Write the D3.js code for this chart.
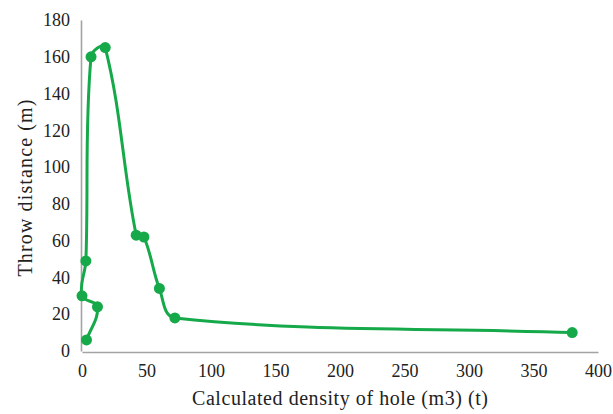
<!DOCTYPE html>
<html>
<head>
<meta charset="utf-8">
<script src="https://cdn.jsdelivr.net/npm/d3@7"></script>
<style>
  body { margin: 0; background: #fff; }
  text { font-family: "Liberation Serif", "DejaVu Serif", serif; fill: #222; }
</style>
</head>
<body>
<div id="chart"></div>
<script>
// points in the order the line connects them
var density = [3.5, 12, 0, 3, 7, 18, 42, 48, 60, 72, 380];
var distance = [6, 24, 30, 49, 160, 165, 63, 62, 34, 18, 10];
var xTicks = [0, 50, 100, 150, 200, 250, 300, 350, 400];
var yTicks = [0, 20, 40, 60, 80, 100, 120, 140, 160, 180];

var width = 613, height = 414;
// note: "top" is taken by window.top, so use plot* names
var plotLeft = 82, plotRight = 598, plotTop = 20, plotBottom = 351;
var green = "#16a94a";

var svg = d3.select("#chart").append("svg")
  .attr("width", width)
  .attr("height", height);

var x = d3.scaleLinear().domain([0, 400]).range([plotLeft, plotRight]);
var y = d3.scaleLinear().domain([0, 180]).range([plotBottom, plotTop]);

// axes (no tick marks, grey line)
svg.append("g")
  .attr("transform", "translate(0," + (plotBottom + 1) + ")")
  .call(d3.axisBottom(x).tickValues(xTicks).tickSize(0).tickPadding(12));
svg.append("g")
  .attr("transform", "translate(" + (plotLeft - 1) + ",0)")
  .call(d3.axisLeft(y).tickValues(yTicks).tickSize(0).tickPadding(11));

svg.selectAll(".domain").attr("stroke", "#a3a3a3").attr("stroke-width", 1.6);
svg.selectAll(".tick text").style("font-size", "18px").style("font-family", "Liberation Serif, serif").attr("fill", "#222");

// axis titles
svg.append("text")
  .attr("x", (plotLeft + plotRight) / 2)
  .attr("y", 405)
  .attr("text-anchor", "middle")
  .attr("textLength", 296)
  .attr("lengthAdjust", "spacing")
  .style("font-size", "20px")
  .text("Calculated density of hole (m3) (t)");

svg.append("text")
  .attr("transform", "translate(32,188) rotate(-90)")
  .attr("text-anchor", "middle")
  .attr("textLength", 177)
  .attr("lengthAdjust", "spacing")
  .style("font-size", "20px")
  .text("Throw distance (m)");

// pixel positions from the scales
var pts = density.map(function(d, i) { return [x(d), y(distance[i])]; });

// smoothed line like the spreadsheet: tangent along neighbours,
// handle length proportional to each adjoining segment
function smoothPath(p, k) {
  var path = d3.path();
  path.moveTo(p[0][0], p[0][1]);
  for (var i = 0; i < p.length - 1; i++) {
    var a = p[i], b = p[i + 1];
    var prev = p[i - 1] || a, next = p[i + 2] || b;
    var seg = Math.hypot(b[0] - a[0], b[1] - a[1]);
    var ta = [b[0] - prev[0], b[1] - prev[1]];
    var tb = [next[0] - a[0], next[1] - a[1]];
    var la = Math.hypot(ta[0], ta[1]) || 1;
    var lb = Math.hypot(tb[0], tb[1]) || 1;
    path.bezierCurveTo(
      a[0] + ta[0] / la * seg * k, a[1] + ta[1] / la * seg * k,
      b[0] - tb[0] / lb * seg * k, b[1] - tb[1] / lb * seg * k,
      b[0], b[1]);
  }
  return path.toString();
}

svg.append("path")
  .attr("d", smoothPath(pts, 0.35))
  .attr("fill", "none")
  .attr("stroke", green)
  .attr("stroke-width", 3);

svg.selectAll(".dot")
  .data(pts)
  .enter().append("circle")
  .attr("class", "dot")
  .attr("cx", function(d) { return d[0]; })
  .attr("cy", function(d) { return d[1]; })
  .attr("r", 5.5)
  .attr("fill", green);
</script>
</body>
</html>
